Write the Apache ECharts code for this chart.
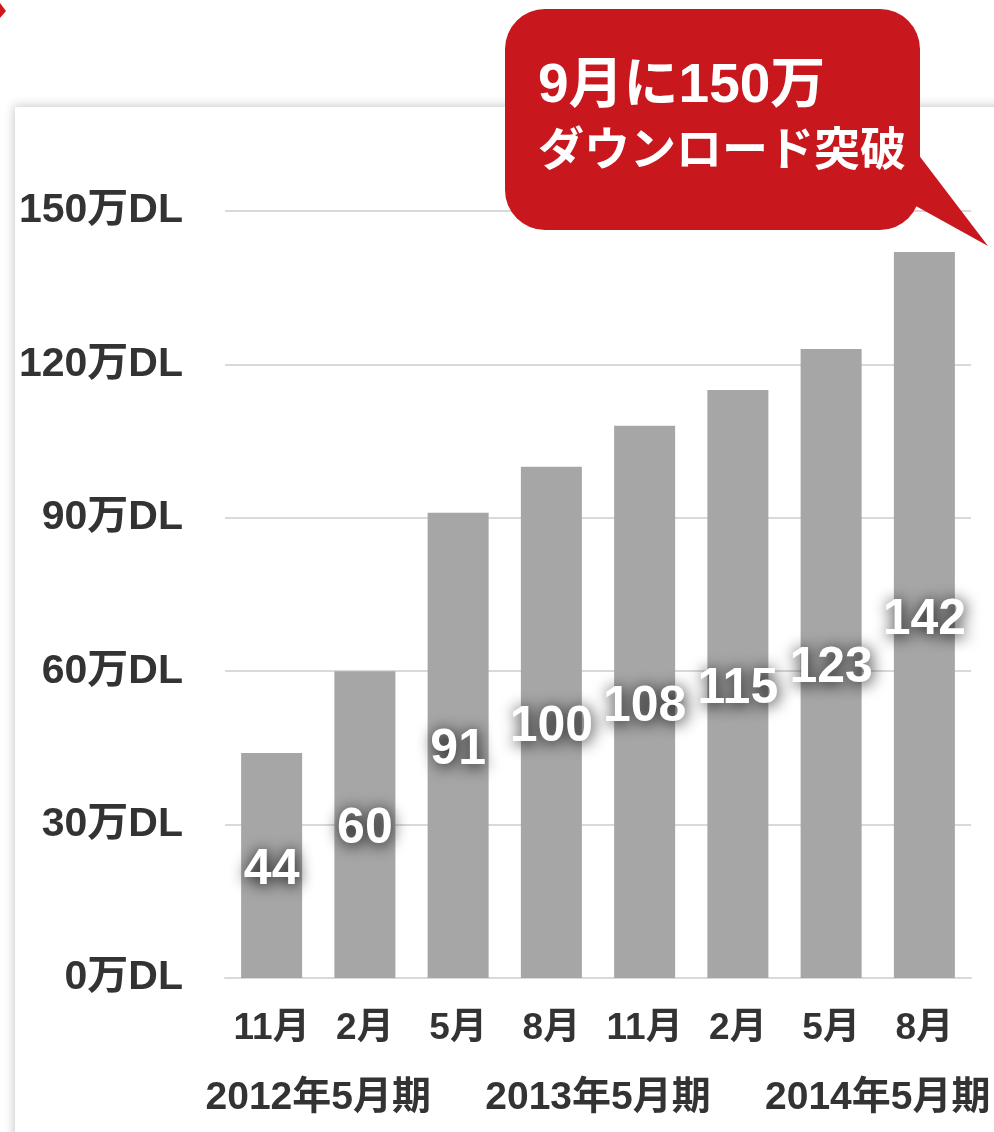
<!DOCTYPE html>
<html>
<head>
<meta charset="utf-8">
<script src="https://cdn.jsdelivr.net/npm/echarts@6/dist/echarts.min.js"></script>
<style>
html,body{margin:0;padding:0;background:#fff;}
#c{width:994px;height:1132px;}
</style>
</head>
<body>
<div id="c"></div>
<script>
var months = ['11月','2月','5月','8月','11月','2月','5月','8月'];
var values = [44, 60, 91, 100, 108, 115, 123, 142];
var fiscalLabels = ['', '2012年5月期', '', '', '2013年5月期', '', '', '2014年5月期', ''];
var yTicks = {min: 0, max: 150, interval: 30, suffix: '万DL'};
var calloutLines = ['9月に150万', 'ダウンロード突破'];

var FONT = '"Liberation Sans", "Noto Sans CJK JP", sans-serif';
var chart = echarts.init(document.getElementById('c'), null, {renderer: 'canvas'});

chart.setOption({
  animation: false,
  backgroundColor: '#ffffff',
  grid: {left: 225, right: 23, top: 211, bottom: 154, containLabel: false},
  xAxis: [{
    type: 'category',
    data: months,
    position: 'bottom',
    axisLine: {show: true, lineStyle: {color: '#d9d9d9', width: 2}},
    axisTick: {show: false},
    axisLabel: {interval: 0, margin: 32, color: '#333', fontSize: 37, fontWeight: 'bold', fontFamily: FONT}
  }, {
    type: 'category',
    data: fiscalLabels,
    boundaryGap: false,
    position: 'bottom',
    offset: 70,
    axisLine: {show: false},
    axisTick: {show: false},
    splitLine: {show: false},
    axisLabel: {interval: 0, margin: 31, color: '#333', fontSize: 39, fontWeight: 'bold', fontFamily: FONT}
  }],
  yAxis: {
    type: 'value',
    min: yTicks.min, max: yTicks.max, interval: yTicks.interval,
    axisLine: {show: false},
    axisTick: {show: false},
    splitLine: {lineStyle: {color: '#d9d9d9', width: 2}},
    axisLabel: {margin: 42, color: '#333', fontSize: 41, fontWeight: 'bold', fontFamily: FONT,
      formatter: function (v) { return v + yTicks.suffix; }}
  },
  series: [{
    type: 'bar',
    data: values,
    barWidth: 61,
    itemStyle: {color: '#a6a6a6'},
    label: {
      show: true,
      position: 'inside',
      offset: [0, 5],
      color: '#ffffff',
      fontSize: 50,
      fontWeight: 'bold',
      fontFamily: FONT,
      textShadowColor: 'rgba(0,0,0,1)',
      textShadowBlur: 16,
      textShadowOffsetX: 1,
      textShadowOffsetY: 2
    }
  }],
  graphic: [
    {type: 'rect', z: -10, silent: true,
     shape: {x: 15, y: 107, width: 1100, height: 1200},
     style: {fill: '#ffffff', shadowBlur: 10, shadowColor: 'rgba(0,0,0,0.22)', shadowOffsetX: -1, shadowOffsetY: -1}},
    {type: 'polygon', z: 50, zlevel: 1, silent: true,
     shape: {points: [[0, 3], [6, 11], [0, 18]]},
     style: {fill: '#d0161e'}},
    {type: 'polygon', z: 100, zlevel: 1, silent: true,
     shape: {points: [[905, 137], [988, 246], [905, 200]]},
     style: {fill: '#c9171e'}},
    {type: 'rect', z: 100, zlevel: 1, silent: true,
     shape: {x: 505, y: 9, width: 415, height: 221, r: 40},
     style: {fill: '#c9171e'}},
    {type: 'text', z: 101, zlevel: 1, silent: true,
     style: {x: 538, y: 87, text: calloutLines[0], fill: '#fff', font: 'bold 55px ' + FONT, textVerticalAlign: 'middle', textAlign: 'left'}},
    {type: 'text', z: 101, zlevel: 1, silent: true,
     style: {x: 538, y: 152, text: calloutLines[1], fill: '#fff', font: 'bold 46px ' + FONT, textVerticalAlign: 'middle', textAlign: 'left'}}
  ]
});
</script>
</body>
</html>
